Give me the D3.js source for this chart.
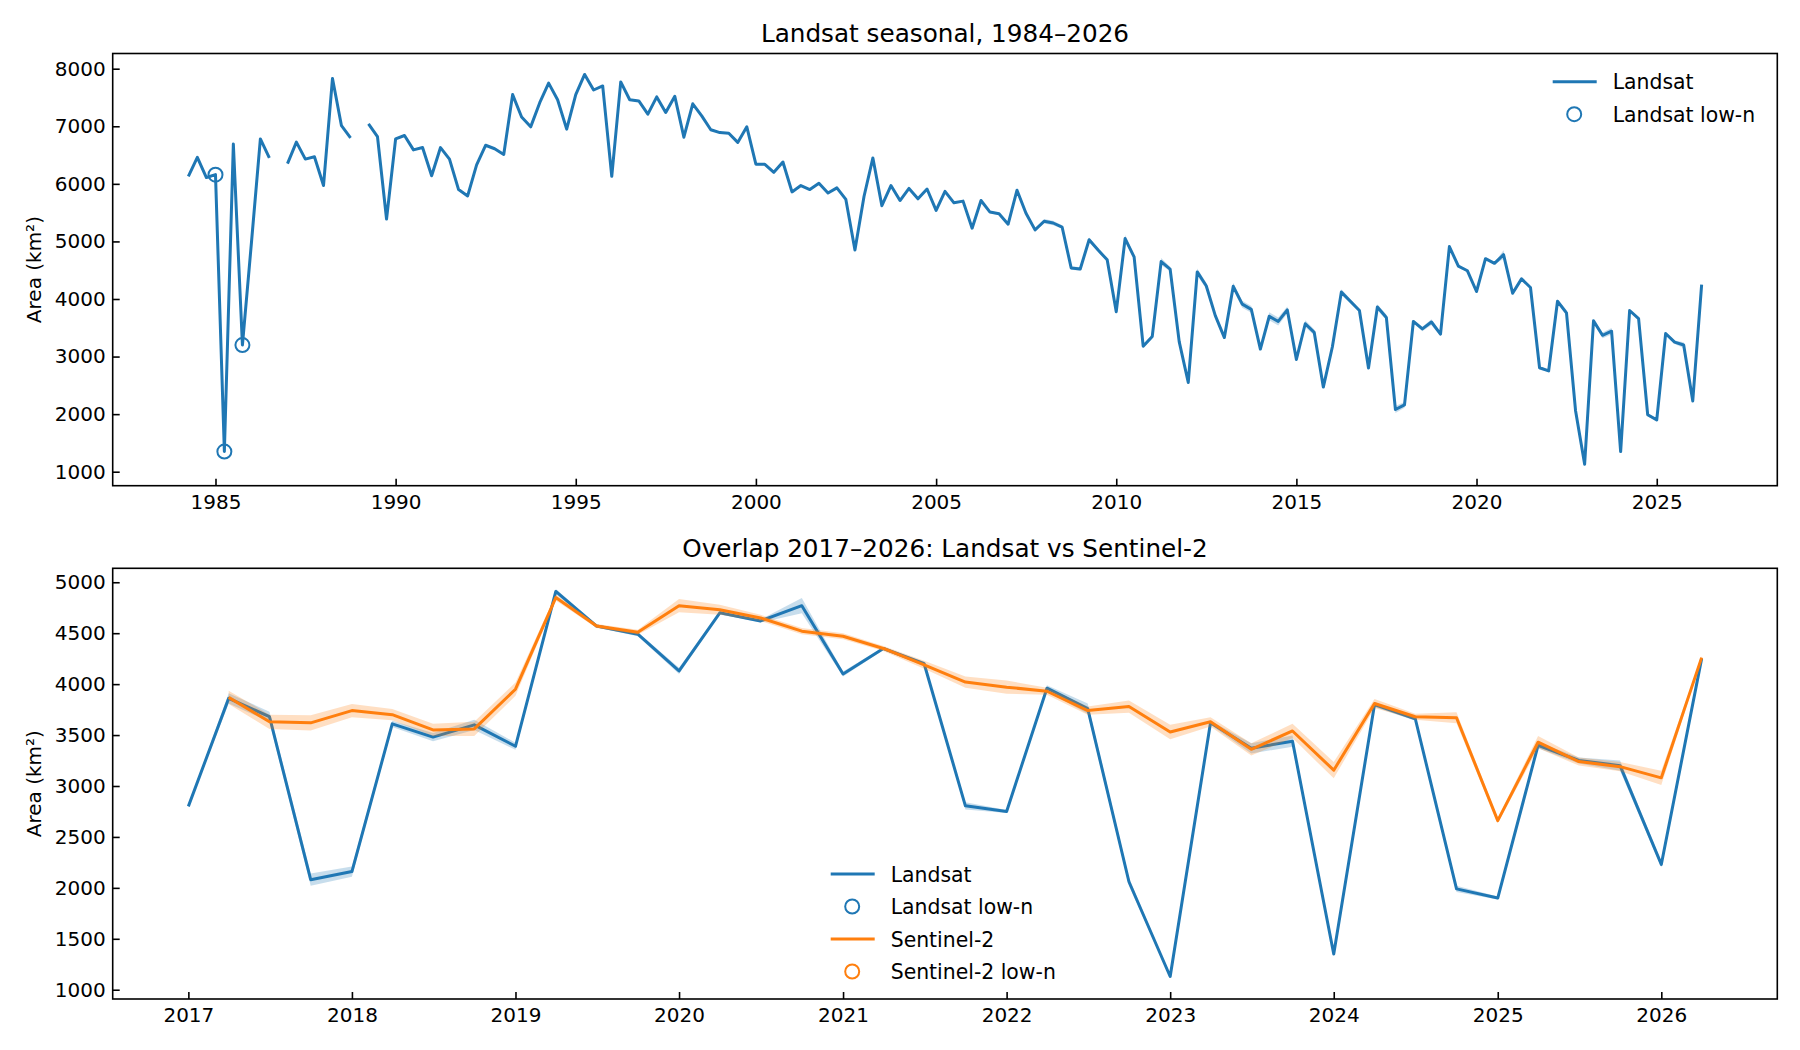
<!DOCTYPE html>
<html>
<head>
<meta charset="utf-8">
<script src="https://cdn.jsdelivr.net/npm/d3@7"></script>
<style>
  body { margin: 0; background: #fff; }
  svg text { font-family: "DejaVu Sans", sans-serif; fill: #000; }
</style>
</head>
<body>
<div id="vis"></div>
<script>
const WIDTH = 1800;
const HEIGHT = 1050;

const BLUE = "#1f77b4";
const ORANGE = "#ff7f0e";

// quarterly seasonal area (km2), Landsat, starting Apr 1984; null = no data
const landsatStart = "1984-04";
const landsatArea = [
  6130, 6460, 6110,              // 1984
  6160, 1350, 6690, 3200,        // 1985
  4990, 6780, 6450, null,        // 1986
  6350, 6725, 6430, 6470,        // 1987
  5970, 7830, 7010, 6800,        // 1988
  null, 7040, 6820, 5390,        // 1989
  6780, 6840, 6590, 6630,        // 1990
  6140, 6630, 6430, 5900,        // 1991
  5790, 6330, 6670, 6610,        // 1992
  6510, 7550, 7160, 6990,        // 1993
  7410, 7750, 7460, 6950,        // 1994
  7550, 7900, 7630, 7700,        // 1995
  6130, 7770, 7460, 7440,        // 1996
  7210, 7510, 7240, 7520,        // 1997
  6810, 7390, 7180, 6940,        // 1998
  6890, 6880, 6720, 6990,        // 1999
  6340, 6340, 6200, 6380,        // 2000
  5860, 5970, 5900, 6010,        // 2001
  5840, 5930, 5730, 4850,        // 2002
  5780, 6450, 5620, 5970,        // 2003
  5710, 5920, 5740, 5910,        // 2004
  5540, 5870, 5670, 5700,        // 2005
  5230, 5710, 5510, 5480,        // 2006
  5300, 5890, 5490, 5200,        // 2007
  5350, 5320, 5250, 4540,        // 2008
  4520, 5030, 4850, 4680,        // 2009
  3780, 5050, 4730, 3180,        // 2010
  3350, 4650, 4520, 3260,        // 2011
  2550, 4470, 4230, 3710,        // 2012
  3330, 4220, 3910, 3820,        // 2013
  3130, 3700, 3610, 3810,        // 2014
  2950, 3570, 3420, 2470,        // 2015
  3170, 4120, 3960, 3800,        // 2016
  2800, 3860, 3680, 2080,        // 2017
  2160, 3610, 3480, 3600,        // 2018
  3390, 4910, 4570, 4490,        // 2019
  4130, 4700, 4620, 4770,        // 2020
  4100, 4350, 4200, 2805,        // 2021
  2750, 3960, 3760, 2060,        // 2022
  1130, 3620, 3370, 3440,        // 2023
  1350, 3800, 3660, 1990,        // 2024
  1900, 3400, 3250, 3200,        // 2025
  2230, 4250                     // 2026
];
// half width of the shaded band, same layout as above
const landsatErr = [
  15, 15, 15,                    // 1984
  20, 20, 20, 20,                // 1985
  15, 15, 15, 0,                 // 1986
  15, 15, 15, 15,                // 1987
  15, 15, 15, 15,                // 1988
  0, 15, 15, 15,                 // 1989
  15, 15, 15, 15,                // 1990
  15, 15, 15, 15,                // 1991
  15, 15, 15, 15,                // 1992
  15, 15, 15, 15,                // 1993
  15, 15, 15, 15,                // 1994
  15, 15, 15, 15,                // 1995
  15, 15, 15, 15,                // 1996
  15, 15, 15, 15,                // 1997
  15, 15, 15, 15,                // 1998
  15, 15, 15, 15,                // 1999
  15, 15, 15, 15,                // 2000
  15, 15, 15, 15,                // 2001
  15, 15, 15, 15,                // 2002
  15, 15, 15, 15,                // 2003
  15, 15, 15, 15,                // 2004
  15, 15, 15, 15,                // 2005
  20, 20, 20, 20,                // 2006
  20, 20, 20, 20,                // 2007
  40, 40, 30, 30,                // 2008
  30, 40, 30, 30,                // 2009
  30, 60, 40, 30,                // 2010
  30, 60, 40, 30,                // 2011
  20, 60, 50, 30,                // 2012
  30, 60, 60, 60,                // 2013
  30, 70, 70, 60,                // 2014
  30, 60, 50, 20,                // 2015
  30, 50, 40, 30,                // 2016
  10, 50, 50, 60,                // 2017
  50, 30, 40, 50,                // 2018
  35, 25, 15, 20,                // 2019
  30, 15, 15, 75,                // 2020
  25, 15, 20, 35,                // 2021
  15, 30, 50, 40,                // 2022
  10, 20, 50, 55,                // 2023
  10, 25, 20, 30,                // 2024
  15, 30, 30, 50,                // 2025
  30, 10                         // 2026
];
const landsatLowN = ["1985-01", "1985-04", "1985-10"];

// Sentinel-2, starting Apr 2017
const sentinelStart = "2017-04";
const sentinelArea = [
  3870, 3630, 3620,              // 2017
  3740, 3700, 3550, 3560,        // 2018
  3950, 4850, 4570, 4510,        // 2019
  4770, 4730, 4650, 4520,        // 2020
  4470, 4350, 4190, 4020,        // 2021
  3970, 3930, 3740, 3780,        // 2022
  3530, 3630, 3360, 3540,        // 2023
  3155, 3810, 3680, 3670,        // 2024
  2660, 3430, 3240, 3190,        // 2025
  3080, 4260                     // 2026
];
const sentinelErr = [
  65, 70, 75,                    // 2017
  65, 55, 60, 70,                // 2018
  65, 30, 20, 25,                // 2019
  65, 50, 30, 30,                // 2020
  30, 25, 40, 55,                // 2021
  65, 35, 40, 60,                // 2022
  70, 45, 60, 70,                // 2023
  80, 45, 30, 55,                // 2024
  25, 60, 40, 45,                // 2025
  70, 15                         // 2026
];
const sentinelLowN = [];

const topYTicks = [1000, 2000, 3000, 4000, 5000, 6000, 7000, 8000];
const topXTicks = [1985, 1990, 1995, 2000, 2005, 2010, 2015, 2020, 2025];
const bottomYTicks = [1000, 1500, 2000, 2500, 3000, 3500, 4000, 4500, 5000];
const bottomXTicks = [2017, 2018, 2019, 2020, 2021, 2022, 2023, 2024, 2025, 2026];

const parseMonth = d3.utcParse("%Y-%m");

function toSeries(start, values, errs) {
  const s = parseMonth(start);
  return values.map((v, i) => ({ date: d3.utcMonth.offset(s, 3 * i), v: v, e: errs[i] || 0 }));
}

const landsat = toSeries(landsatStart, landsatArea, landsatErr);
const sentinel = toSeries(sentinelStart, sentinelArea, sentinelErr);
const lowNSet = new Set(landsatLowN);
const fmtMonth = d3.utcFormat("%Y-%m");

const SVG = d3.select("#vis").append("svg").attr("width", WIDTH).attr("height", HEIGHT);

const LEFT = 112.7, RIGHT = 1777.3;

function padExtent(dates) {
  const ext = d3.extent(dates);
  const span = ext[1] - ext[0];
  return [new Date(+ext[0] - span * 0.05), new Date(+ext[1] + span * 0.05)];
}

function drawPanel(cfg) {
  const g = SVG.append("g");
  const x = d3.scaleUtc().domain(padExtent(cfg.dates)).range([LEFT, RIGHT]);
  const y = d3.scaleLinear().domain(cfg.yDomain).range([cfg.bottom, cfg.top]);

  const area = d3.area()
    .defined(d => d.v != null)
    .x(d => x(d.date))
    .y0(d => y(d.v - d.e))
    .y1(d => y(d.v + d.e));
  const line = d3.line()
    .defined(d => d.v != null)
    .x(d => x(d.date))
    .y(d => y(d.v));

  cfg.series.forEach(s => {
    g.append("path").datum(s.data).attr("d", area)
      .attr("fill", s.color).attr("fill-opacity", 0.25).attr("stroke", "none");
    g.append("path").datum(s.data).attr("d", line)
      .attr("fill", "none").attr("stroke", s.color).attr("stroke-width", 3)
      .attr("stroke-linejoin", "round");
    g.selectAll(null)
      .data(s.data.filter(d => d.v != null && s.lowN.has(fmtMonth(d.date))))
      .join("circle")
      .attr("cx", d => x(d.date))
      .attr("cy", d => y(d.v))
      .attr("r", 7)
      .attr("fill", "none")
      .attr("stroke", s.color)
      .attr("stroke-width", 2);
  });

  // axes, ticks pointing inward
  const ax = d3.axisBottom(x)
    .tickValues(cfg.xTicks.map(yr => new Date(Date.UTC(yr, 0, 1))))
    .tickFormat(d3.utcFormat("%Y"))
    .tickSize(-7).tickPadding(9);
  const ay = d3.axisLeft(y)
    .tickValues(cfg.yTicks)
    .tickFormat(d3.format("d"))
    .tickSize(-7).tickPadding(7);

  const gx = g.append("g").attr("transform", "translate(0," + cfg.bottom + ")").call(ax);
  const gy = g.append("g").attr("transform", "translate(" + LEFT + ",0)").call(ay);
  [gx, gy].forEach(a => {
    a.select(".domain").remove();
    a.selectAll(".tick line").attr("stroke", "#000").attr("stroke-width", 1.6);
    a.selectAll(".tick text").attr("font-size", 20).attr("font-family", "DejaVu Sans").attr("fill", "#000");
  });

  g.append("rect")
    .attr("x", LEFT).attr("y", cfg.top)
    .attr("width", RIGHT - LEFT).attr("height", cfg.bottom - cfg.top)
    .attr("fill", "none").attr("stroke", "#000").attr("stroke-width", 1.6);

  g.append("text")
    .attr("x", (LEFT + RIGHT) / 2).attr("y", cfg.titleY)
    .attr("text-anchor", "middle").attr("font-size", 24.7)
    .text(cfg.title);

  g.append("text")
    .attr("transform", "translate(40.5," + (cfg.top + cfg.bottom) / 2 + ") rotate(-90)")
    .attr("text-anchor", "middle").attr("font-size", 20)
    .text("Area (km²)");

  // legend, no frame
  const lg = g.append("g");
  cfg.legend.items.forEach((it, i) => {
    const cy = cfg.legend.y + i * 32.5;
    const hx = cfg.legend.x;
    if (it.kind === "line") {
      lg.append("line").attr("x1", hx).attr("x2", hx + 44).attr("y1", cy).attr("y2", cy)
        .attr("stroke", it.color).attr("stroke-width", 3);
    } else {
      lg.append("circle").attr("cx", hx + 21.5).attr("cy", cy).attr("r", 7)
        .attr("fill", "none").attr("stroke", it.color).attr("stroke-width", 2);
    }
    lg.append("text").attr("x", hx + 60).attr("y", cy + 7.5)
      .attr("font-size", 20.4).text(it.label);
  });
}

drawPanel({
  top: 53.5, bottom: 485.7,
  dates: landsat.map(d => d.date),
  yDomain: [757, 8264],
  xTicks: topXTicks, yTicks: topYTicks,
  title: "Landsat seasonal, 1984–2026", titleY: 41.7,
  series: [{ data: landsat, color: BLUE, lowN: lowNSet }],
  legend: { x: 1552.7, y: 81.7, items: [
    { kind: "line", color: BLUE, label: "Landsat" },
    { kind: "circle", color: BLUE, label: "Landsat low-n" }
  ] }
});

const overlapStart = parseMonth("2017-01");
const landsatOverlap = landsat.filter(d => d.date >= overlapStart);

drawPanel({
  top: 568.3, bottom: 999,
  dates: landsatOverlap.map(d => d.date).concat(sentinel.map(d => d.date)),
  yDomain: [909, 5137],
  xTicks: bottomXTicks, yTicks: bottomYTicks,
  title: "Overlap 2017–2026: Landsat vs Sentinel-2", titleY: 556.5,
  series: [
    { data: landsatOverlap, color: BLUE, lowN: lowNSet },
    { data: sentinel, color: ORANGE, lowN: new Set(sentinelLowN) }
  ],
  legend: { x: 830.7, y: 874, items: [
    { kind: "line", color: BLUE, label: "Landsat" },
    { kind: "circle", color: BLUE, label: "Landsat low-n" },
    { kind: "line", color: ORANGE, label: "Sentinel-2" },
    { kind: "circle", color: ORANGE, label: "Sentinel-2 low-n" }
  ] }
});
</script>
</body>
</html>
